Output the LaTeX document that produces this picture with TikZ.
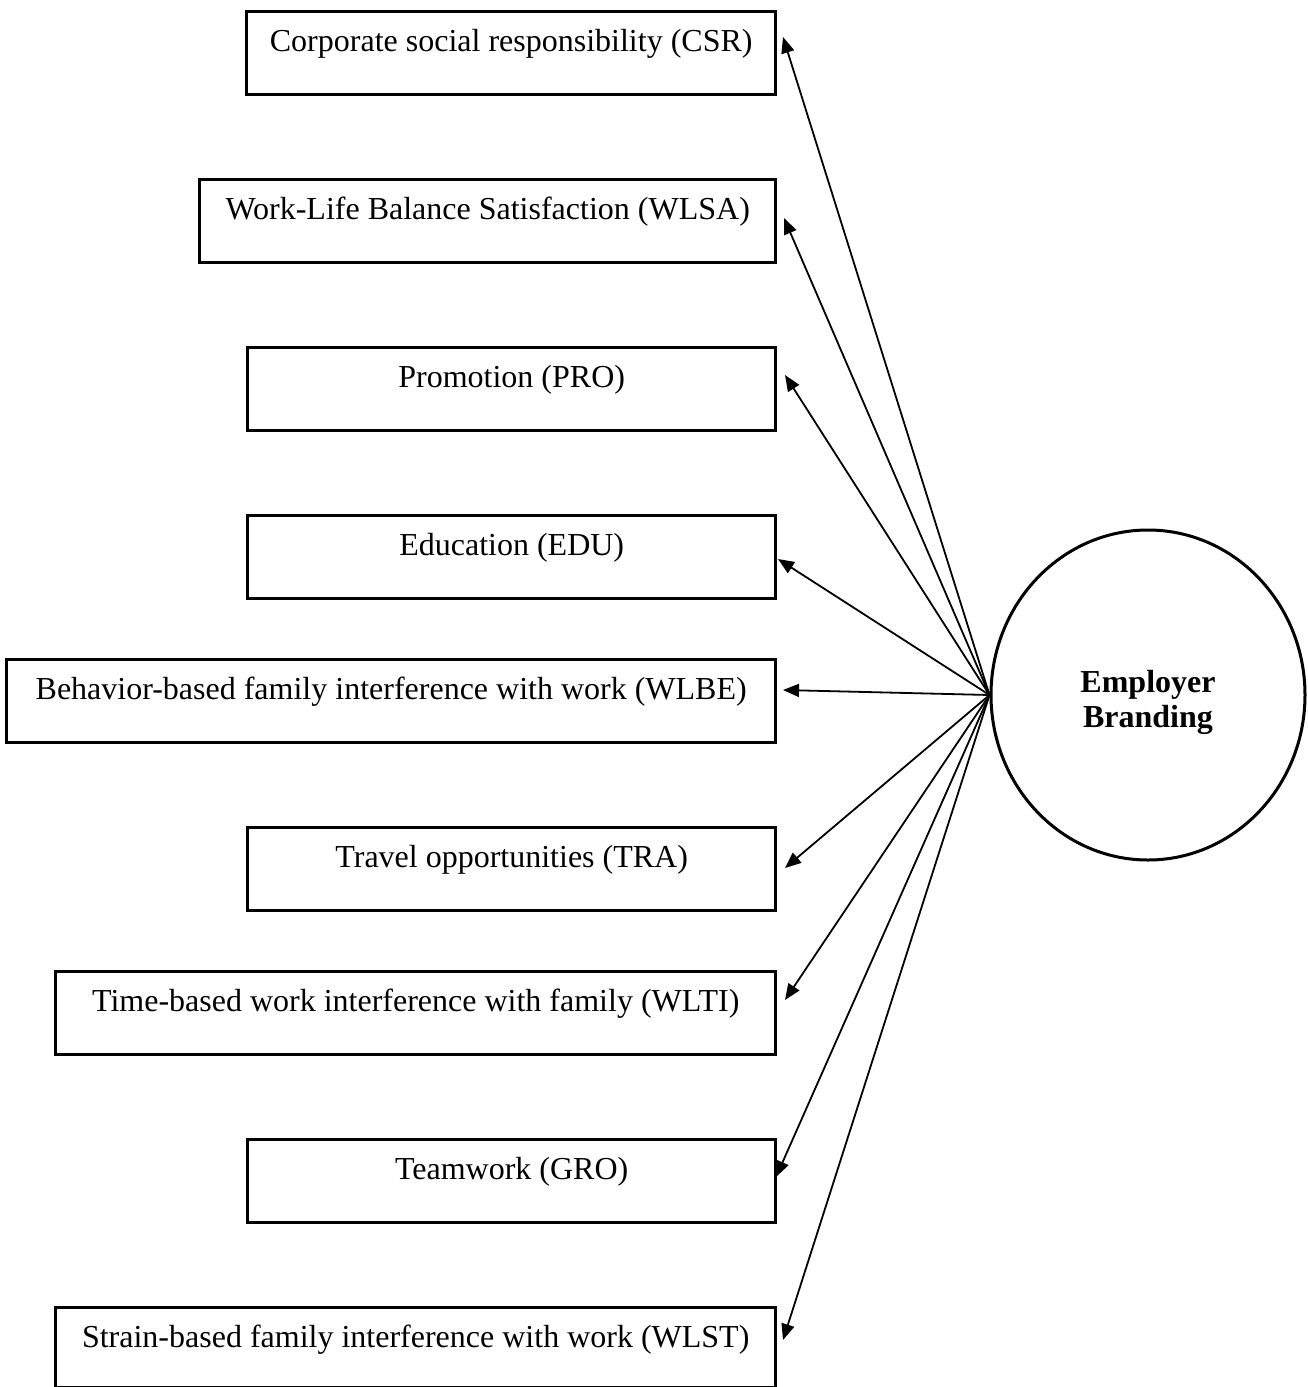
\documentclass[tikz,border=0pt]{standalone}
\usepackage{fontspec}
\setmainfont{Liberation Serif}
\usetikzlibrary{arrows.meta,shapes.geometric}
\begin{document}
\begin{tikzpicture}[x=1pt,y=-1pt,
  box/.style={draw, line width=2.6pt, rectangle, inner sep=0pt,
    minimum height=83pt, text height=40pt, text depth=43pt,
    anchor=north east, font=\fontsize{32}{36}\selectfont},
  arr/.style={line width=1.8pt, -{Triangle[length=16pt,width=13pt]}},
  latent/.style={ellipse, draw, line width=3pt, minimum width=314pt,
    minimum height=330pt, inner sep=0pt},
  latenttext/.style={font=\bfseries\fontsize{32}{35}\selectfont, align=center, yshift=-7pt}]
\path[fill=white, use as bounding box] (0,0) rectangle (1308,1387);

\node[box, minimum width=529pt] (b1) at (777,10) {Corporate social responsibility (CSR)};
\node[box, minimum width=576pt] (b2) at (777,178) {Work-Life Balance Satisfaction (WLSA)};
\node[box, minimum width=528pt] (b3) at (777,346) {Promotion (PRO)};
\node[box, minimum width=528pt] (b4) at (777,514) {Education (EDU)};
\node[box, minimum width=769pt] (b5) at (777,658) {Behavior-based family interference with work (WLBE)};
\node[box, minimum width=528pt] (b6) at (777,826) {Travel opportunities (TRA)};
\node[box, minimum width=720pt] (b7) at (777,970) {Time-based work interference with family (WLTI)};
\node[box, minimum width=528pt] (b8) at (777,1138) {Teamwork (GRO)};
\node[box, minimum width=720pt, minimum height=80pt, text depth=40pt] (b9) at (777,1306) {Strain-based family interference with work (WLST)};

\node[latent, label={[latenttext]center:Employer\\Branding}] (eb) at (1148,695) {};

\coordinate (t1) at (783,37);
\coordinate (t2) at (784,218);
\coordinate (t3) at (785,375);
\coordinate (t4) at (778,559);
\coordinate (t5) at (783,690);
\coordinate (t6) at (785,868);
\coordinate (t7) at (785,1000);
\coordinate (t8) at (776,1177);
\coordinate (t9) at (783,1340);

\foreach \i in {1,...,9}{\draw[arr] (eb.west) -- (t\i);}
\end{tikzpicture}
\end{document}
